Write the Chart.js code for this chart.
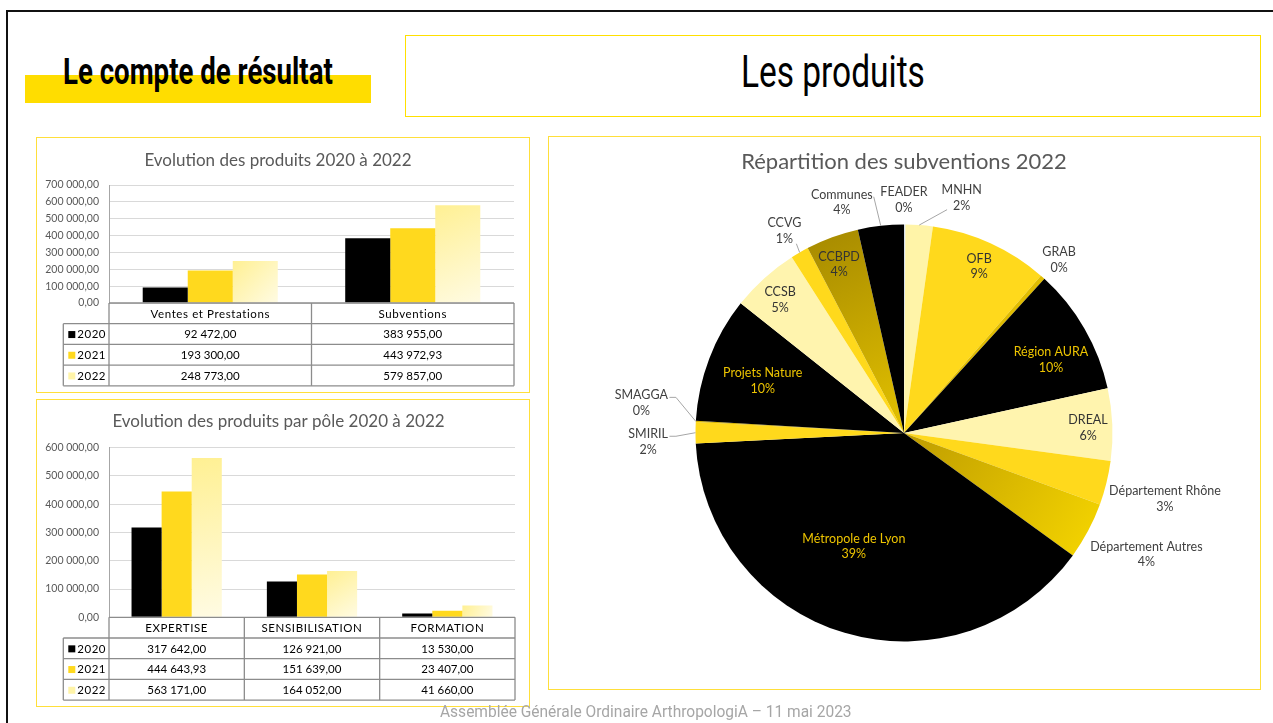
<!DOCTYPE html>
<html><head><meta charset="utf-8">
<script src="https://cdn.jsdelivr.net/npm/chart.js@4.4.1/dist/chart.umd.min.js"></script>
<style>
html,body{margin:0;padding:0;background:#fff;width:1273px;height:723px;overflow:hidden;position:relative;}
#frame{position:absolute;left:6px;top:10px;width:1320px;height:800px;border:2px solid #111;box-sizing:border-box;}
.box{position:absolute;border:1px solid #FFDF3A;box-sizing:border-box;}
.fit{position:absolute;white-space:nowrap;transform-origin:0 0;line-height:1;font-family:Roboto,"DejaVu Sans Condensed",sans-serif;}
canvas{position:absolute;}
</style></head><body>
<div id="frame"></div>
<div style="position:absolute;left:25px;top:75px;width:346px;height:28px;background:#FFDD00"></div>
<div id="t1" class="fit" data-w="270" style="left:63px;top:53.5px;font-size:36px;font-weight:700;color:#000">Le compte de résultat</div>
<div class="box" style="left:405px;top:35px;width:856px;height:82px;border:1.5px solid #FFE000"></div>
<div id="t2" class="fit" data-w="184" style="left:741px;top:49.7px;font-size:44px;font-weight:400;color:#000">Les produits</div>
<div class="box" style="left:36px;top:137px;width:494px;height:256px"></div>
<div class="box" style="left:36px;top:399px;width:494px;height:308px"></div>
<div class="box" style="left:548px;top:136px;width:713px;height:554px"></div>
<canvas id="c1" width="493" height="256" style="left:36px;top:137px"></canvas>
<canvas id="c2" width="493" height="307" style="left:36px;top:399px"></canvas>
<canvas id="c3" width="712" height="553" style="left:548px;top:136px"></canvas>
<div id="t3" class="fit" data-w="412" style="left:439.5px;top:704px;font-size:16px;color:#A6A6A6">Assemblée Générale Ordinaire ArthropologiA – 11 mai 2023</div>
<script>
// ---------- DATA ----------
const years = ['2020', '2021', '2022'];
const produitsCats = ['Ventes et Prestations', 'Subventions'];
const produits2020 = [92472.00, 383955.00];
const produits2021 = [193300.00, 443972.93];
const produits2022 = [248773.00, 579857.00];
const produitsTicks = [0, 100000, 200000, 300000, 400000, 500000, 600000, 700000];

const polesCats = ['EXPERTISE', 'SENSIBILISATION', 'FORMATION'];
const poles2020 = [317642.00, 126921.00, 13530.00];
const poles2021 = [444643.93, 151639.00, 23407.00];
const poles2022 = [563171.00, 164052.00, 41660.00];
const polesTicks = [0, 100000, 200000, 300000, 400000, 500000, 600000];

const subvLabels = ['FEADER', 'MNHN', 'OFB', 'GRAB', 'Région AURA', 'DREAL', 'Département Rhône',
  'Département Autres', 'Métropole de Lyon', 'SMIRIL', 'SMAGGA', 'Projets Nature', 'CCSB', 'CCVG', 'CCBPD', 'Communes'];
const subvValues = [650, 12200, 53200, 2100, 56800, 32400, 19800, 25600, 227300, 9500, 500, 56500, 30600, 8100, 23700, 20600];

// ---------- helpers ----------
function frNum(v) {
  const s = Math.abs(v).toFixed(2).split('.');
  return s[0].replace(/\B(?=(\d{3})+(?!\d))/g, ' ') + ',' + s[1];
}
const FONT = 'Lato, "Open Sans", sans-serif';

function grad2022(c) {
  const ch = c.chart, ca = ch.chartArea;
  if (!ca || c.type !== 'data' || !c.parsed) return '#FFF5B0';
  const xs = ch.scales.x, ys = ch.scales.y;
  const catW = (ca.right - ca.left) / ch.data.labels.length;
  const bw = catW * 0.667 / 3;
  const xc = xs.getPixelForValue(c.dataIndex) + bw;
  const yt = ys.getPixelForValue(c.parsed.y);
  const g = ch.ctx.createLinearGradient(xc - bw / 2, yt, xc + bw / 2, ca.bottom);
  g.addColorStop(0, '#FFF093');
  g.addColorStop(1, '#FFFBE3');
  return g;
}
const barFills = ['#000000', '#FFD91E', grad2022];
const keyColors = ['#000000', '#FFD91E', '#FFF4A8'];

const tablePlugin = {
  id: 'dataTable',
  afterDraw(chart, args, o) {
    const {ctx, chartArea: ca} = chart;
    const xs = chart.scales.x;
    const n = chart.data.labels.length;
    const h = o.rowH, y0 = ca.bottom, L = o.tableLeft;
    const bounds = [ca.left];
    for (let i = 0; i < n - 1; i++) bounds.push((xs.getPixelForValue(i) + xs.getPixelForValue(i + 1)) / 2);
    bounds.push(ca.right);
    ctx.save();
    ctx.strokeStyle = '#8C8C8C';
    ctx.lineWidth = 1.3;
    const line = (x1, y1, x2, y2) => { ctx.beginPath(); ctx.moveTo(x1, y1); ctx.lineTo(x2, y2); ctx.stroke(); };
    line(ca.left, y0, ca.right, y0);
    for (let r = 1; r <= 4; r++) line(L, y0 + r * h, ca.right, y0 + r * h);
    bounds.forEach(bx => line(bx, y0, bx, y0 + 4 * h));
    line(L, y0 + h, L, y0 + 4 * h);
    ctx.fillStyle = '#000';
    ctx.textBaseline = 'middle';
    ctx.textAlign = 'center';
    ctx.font = '11.5px ' + FONT;
    if ('letterSpacing' in ctx) ctx.letterSpacing = '0.6px';
    chart.data.labels.forEach((lab, i) => ctx.fillText(lab, xs.getPixelForValue(i), y0 + h / 2 + 0.5));
    if ('letterSpacing' in ctx) ctx.letterSpacing = '0px';
    chart.data.datasets.forEach((ds, r) => {
      const cy = y0 + (r + 1.5) * h + 0.5;
      ctx.fillStyle = keyColors[r];
      ctx.fillRect(L + 5, cy - 3.5, 7, 7);
      ctx.fillStyle = '#000';
      ctx.textAlign = 'left';
      if ('letterSpacing' in ctx) ctx.letterSpacing = '0.5px';
      ctx.fillText(ds.label, L + 14, cy);
      if ('letterSpacing' in ctx) ctx.letterSpacing = '0px';
      ctx.textAlign = 'center';
      ds.data.forEach((v, i) => ctx.fillText(frNum(v), xs.getPixelForValue(i), cy));
    });
    ctx.restore();
  }
};

function barChart(id, cats, series, ticks, title, padding, axisW, titlePad) {
  return new Chart(document.getElementById(id), {
    type: 'bar',
    data: {
      labels: cats,
      datasets: years.map((y, i) => ({
        label: y, data: series[i], backgroundColor: barFills[i], borderWidth: 0,
        barPercentage: 1, categoryPercentage: 0.667
      }))
    },
    options: {
      responsive: false, animation: false, events: [],
      layout: {padding},
      plugins: {
        legend: {display: false}, tooltip: {enabled: false},
        title: {display: true, text: title, color: '#595959', font: {family: FONT, size: 17, weight: 'normal'}, padding: titlePad},
        dataTable: {rowH: 20.7, tableLeft: 27.3}
      },
      scales: {
        x: {display: false},
        y: {
          min: ticks[0], max: ticks[ticks.length - 1],
          afterBuildTicks(s) { s.ticks = ticks.map(v => ({value: v})); },
          ticks: {callback: v => frNum(v), color: '#595959', font: {family: FONT, size: 10.5}, padding: 10},
          grid: {color: '#D9D9D9', drawTicks: false},
          border: {display: true, color: '#A6A6A6'},
          afterFit(s) { s.width = axisW; }
        }
      }
    },
    plugins: [tablePlugin]
  });
}

barChart('c1', produitsCats, [produits2020, produits2021, produits2022], produitsTicks,
  'Evolution des produits 2020 à 2022', {left: 6, right: 15, top: 0, bottom: 90}, 67, {top: 13, bottom: 14.6});
barChart('c2', polesCats, [poles2020, poles2021, poles2022], polesTicks,
  'Evolution des produits par pôle 2020 à 2022', {left: 6, right: 14, top: 0, bottom: 88.7}, 67, {top: 12.5, bottom: 15.8});

// ---------- PIE ----------
const sliceColors = ['#D9E2EC', '#FFF4A8', '#FFD91C', '#E0BC00', '#000000', '#FFF4AE', '#FFD91C',
  ['#BE9C00', '#F6D600'], '#000000', '#FFD91C', '#D8B400', '#000000', '#FFF4AE', '#FFD91C',
  ['#A58900', '#E4C200'], '#000000'];
const labelColors = ['#404040', '#404040', '#333333', '#404040', '#EDC400', '#333333', '#404040',
  '#404040', '#EDC400', '#404040', '#404040', '#EDC400', '#333333', '#404040', '#333333', '#404040'];
const labelRadius = [1.117, 1.161, 0.876, 1.114, 0.787, 0.883, 1.291, 1.30, 0.595, 1.228, 1.268, 0.722, 0.872, 1.126, 0.867, 1.145];
const labelShift = [-0.2, 9.6, -0.2, 0.2, 3.6, 0.7, 0.3, -1.4, 7.3, -2.1, 3.3, -0.7, -0.9, -0.6, -0.9, -8.7];
const leaderMode = [null, 'pctLeft', null, null, null, null, null, null, null, 'side', 'side', null, null, 'below', null, 'direct'];

function sliceFill(c) {
  const spec = sliceColors[c.dataIndex];
  if (typeof spec === 'string') return spec;
  const ch = c.chart, ca = ch.chartArea;
  if (!ca) return spec[1];
  const cx = (ca.left + ca.right) / 2, cy = (ca.top + ca.bottom) / 2, r = Math.min(ca.right - ca.left, ca.bottom - ca.top) / 2;
  const data = ch.data.datasets[0].data, tot = data.reduce((a, b) => a + b, 0);
  let before = 0;
  for (let k = 0; k < c.dataIndex; k++) before += data[k];
  const a0 = -Math.PI / 2 + before / tot * 2 * Math.PI, a1 = a0 + data[c.dataIndex] / tot * 2 * Math.PI;
  const pts = [[cx, cy]];
  for (let t = 0; t <= 4; t++) { const a = a0 + (a1 - a0) * t / 4; pts.push([cx + r * Math.cos(a), cy + r * Math.sin(a)]); }
  const xsA = pts.map(p => p[0]), ysA = pts.map(p => p[1]);
  const g = ch.ctx.createLinearGradient(Math.min(...xsA), Math.min(...ysA), Math.max(...xsA), Math.max(...ysA));
  g.addColorStop(0, spec[0]); g.addColorStop(1, spec[1]);
  return g;
}

const pieLabelPlugin = {
  id: 'pieLabels',
  afterDatasetsDraw(chart) {
    const ctx = chart.ctx, meta = chart.getDatasetMeta(0);
    const vals = chart.data.datasets[0].data, total = vals.reduce((a, b) => a + b, 0);
    ctx.save();
    ctx.font = '12.5px ' + FONT;
    ctx.textAlign = 'center';
    ctx.textBaseline = 'middle';
    const gap = 15.5;
    meta.data.forEach((arc, i) => {
      const p = arc.getProps(['x', 'y', 'startAngle', 'endAngle', 'outerRadius'], true);
      const m0 = (p.startAngle + p.endAngle) / 2;
      const mid = m0 + labelShift[i] * Math.PI / 180;
      const R = p.outerRadius * labelRadius[i];
      const lx = p.x + R * Math.cos(mid), ly = p.y + R * Math.sin(mid);
      const name = chart.data.labels[i];
      const pct = Math.round(vals[i] / total * 100) + '%';
      const ny = ly - gap / 2, py = ly + gap / 2;
      const mode = leaderMode[i];
      if (mode) {
        const ax = p.x + p.outerRadius * Math.cos(m0), ay = p.y + p.outerRadius * Math.sin(m0);
        const nw = ctx.measureText(name).width, pw = ctx.measureText(pct).width;
        let pts;
        if (mode === 'side') pts = [[ax, ay], [lx + nw / 2 + 8, ny + 2], [lx + nw / 2 + 1.5, ny + 2]];
        else if (mode === 'direct') pts = [[ax, ay], [lx + nw / 2 + 1, ny + 2]];
        else if (mode === 'pctLeft') pts = [[ax, ay], [lx - pw / 2 - 6, py + 4]];
        else pts = [[ax, ay], [lx + 12, py + 5]];
        ctx.strokeStyle = '#A6A6A6';
        ctx.lineWidth = 1;
        ctx.beginPath();
        pts.forEach((q, k) => k ? ctx.lineTo(q[0], q[1]) : ctx.moveTo(q[0], q[1]));
        ctx.stroke();
      }
      ctx.fillStyle = labelColors[i];
      ctx.fillText(name, lx, ny);
      ctx.fillText(pct, lx, py);
    });
    ctx.restore();
  }
};

new Chart(document.getElementById('c3'), {
  type: 'pie',
  data: {labels: subvLabels, datasets: [{data: subvValues, backgroundColor: sliceFill, borderWidth: 0, hoverOffset: 0}]},
  options: {
    responsive: false, animation: false, events: [],
    layout: {padding: {left: 147.5, right: 147.5, top: 0, bottom: 47.5}},
    plugins: {
      legend: {display: false}, tooltip: {enabled: false},
      title: {display: true, text: 'Répartition des subventions 2022', color: '#595959', font: {family: FONT, size: 22, weight: 'normal'}, padding: {top: 12.5, bottom: 49.6}}
    }
  },
  plugins: [pieLabelPlugin]
});

// ---------- fit condensed header texts ----------
document.querySelectorAll('.fit').forEach(el => {
  const w = parseFloat(el.dataset.w);
  el.style.transform = 'scaleX(' + (w / el.offsetWidth) + ')';
});
</script>
</body></html>
